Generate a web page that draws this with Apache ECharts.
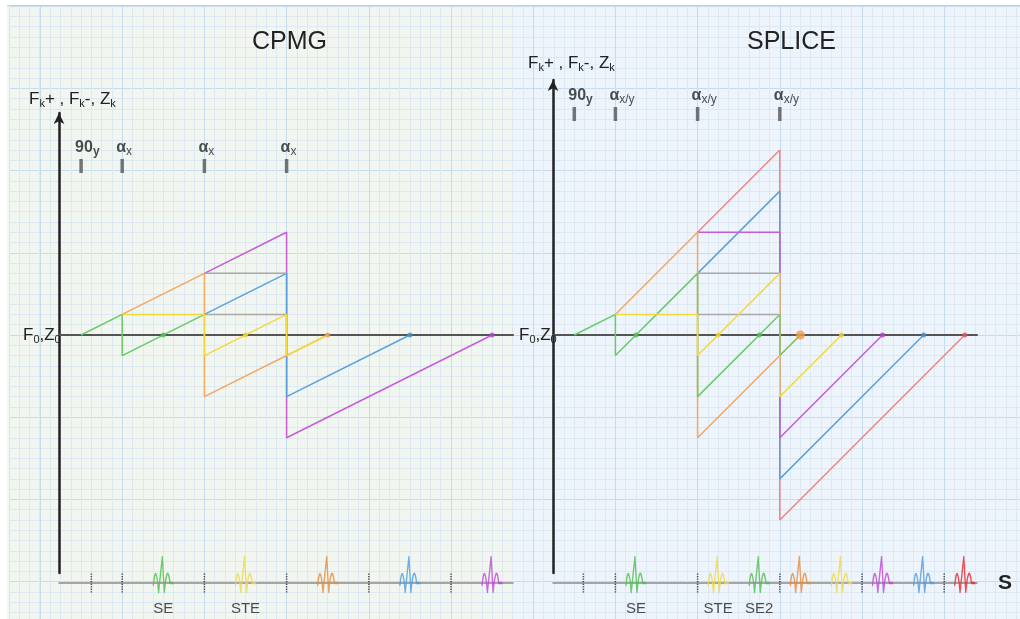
<!DOCTYPE html>
<html><head><meta charset="utf-8">
<script src="https://cdn.jsdelivr.net/npm/echarts@6/dist/echarts.min.js"></script>
<style>html,body{margin:0;padding:0;background:#fff}#c{width:1020px;height:619px}</style>
</head><body><div id="c"></div>
<script>
// ===== DATA (time in units of tau, dephasing order k) =====
// CPMG
const cpmgPulseTimes = [0, 1, 3, 5];
const cpmgPulseMain  = ['90', 'α', 'α', 'α'];
const cpmgPulseSub   = ['y', 'x', 'x', 'x'];
const cpmgPurple = [[3,3],[5,5],[5,-5],[10,0]];
const cpmgBlue   = [[3,1],[5,3],[5,-3],[8,0]];
const cpmgOrange = [[1,1],[3,3],[3,-3],[6,0]];
const cpmgGreen  = [[0,0],[1,1],[1,-1],[3,1]];
const cpmgGrayHi = [[3,3],[5,3]];
const cpmgGrayLo = [[3,1],[5,1]];
const cpmgYellow = [[1,1],[3,1],[3,-1],[5,1],[5,-1],[6,0]];
const cpmgEchoTimes  = [2, 4, 6, 8, 10];
const cpmgEchoColors = ['green','yellow','orange','blue','purple'];
const cpmgEchoLabels = ['SE','STE','','',''];
const cpmgGateTimes  = [0.25, 1, 3, 5, 7, 9];

// SPLICE
const splicePulseTimes = [0, 1, 3, 5];
const splicePulseMain  = ['90', 'α', 'α', 'α'];
const splicePulseSub   = ['y', 'x/y', 'x/y', 'x/y'];
const spliceRed     = [[3,5],[5,9],[5,-9],[9.5,0]];
const spliceBlue    = [[3,3],[5,7],[5,-7],[8.5,0]];
const splicePurple  = [[3,5],[5,5],[5,-5],[7.5,0]];
const spliceOrange  = [[1,1],[3,5],[3,-5],[5,-1],[5.5,0]];
const spliceGreen   = [[0,0],[1,1],[1,-1],[3,3],[3,-3],[5,1]];
const spliceGrayHi  = [[3,3],[5,3]];
const spliceGrayLo  = [[3,1],[5,1]];
const spliceYellow  = [[1,1],[3,1],[3,-1],[5,3],[5,-3],[6.5,0]];
const spliceGreen2  = [[5,1],[5,-1],[5.5,0]];
const spliceEchoTimes  = [1.5, 3.5, 4.5, 5.5, 6.5, 7.5, 8.5, 9.5];
const spliceEchoColors = ['green','yellow','green','orange','yellow','purple','blue','red'];
const spliceEchoLabels = ['SE','STE','SE2','','','','',''];
const spliceGateTimes  = [0.22, 1, 3, 5, 7, 9];

// ===== STYLE / LAYOUT =====
const FONT = 'Liberation Sans, Arial, Helvetica, sans-serif';
const LINE = {green:'#66cc66', orange:'#f5a662', yellow:'#f5d93a', blue:'#5aa2df', purple:'#c65bd9', red:'#f08585', gray:'#a8a8a8'};
const GLYPH = {green:'#4cbf4c', orange:'#e8893a', yellow:'#efd84a', blue:'#4d9be0', purple:'#bf45d4', red:'#e8262a'};
const DOT = {green:'#4cbf4c', orange:'#f29a4a', yellow:'#f0d020', blue:'#3d8fd6', purple:'#b83fcf', red:'#e85050'};

const MAJOR = 82.2, MINOR = MAJOR / 8, TAU = MAJOR / 2, KU = MAJOR / 4;
const ZERO_Y = 335, AXIS_BOTTOM = 573, STRIP_Y = 583;
const L = {axisX: 59, t0: 81.1, rightX: 513, topY: 113, pulseY: 166};
const R = {axisX: 553, t0: 574.3, rightX: 977, topY: 80, pulseY: 114};

const glyphPath = 'path://M0,28 Q2.6,3 5.3,35 L9,0 L11,35 Q14,3.5 16.7,26 L20,26';
let dotted = 'path://';
for (let i = 0; i < 8; i++) dotted += 'M0,' + (i * 2.5) + 'h1v1.2h-1z';

function diagAxes(P, gi) {
  return {
    x: {gridIndex: gi, type: 'value', min: (P.axisX - P.t0) / TAU, max: (P.rightX - P.t0) / TAU,
        axisLine: {show: true, onZero: true, lineStyle: {color: '#555', width: 2.2}},
        axisTick: {show: false}, axisLabel: {show: false}, splitLine: {show: false}},
    y: {gridIndex: gi, type: 'value', min: -(AXIS_BOTTOM - ZERO_Y) / KU, max: (ZERO_Y - P.topY) / KU,
        axisLine: {show: true, onZero: false, symbol: ['none', 'arrow'], symbolSize: [8, 11], lineStyle: {color: '#222', width: 2.5}},
        axisTick: {show: false}, axisLabel: {show: false}, splitLine: {show: false}}
  };
}
function stripAxes(P, gi, name) {
  return {
    x: {gridIndex: gi, type: 'value', min: (P.axisX - P.t0) / TAU, max: (P.rightX - P.t0) / TAU,
        axisLine: {show: true, onZero: true, lineStyle: {color: '#8a8a8a', width: 1.5}},
        axisTick: {show: false}, axisLabel: {show: false}, splitLine: {show: false},
        name: name || '', nameLocation: 'end', nameGap: 21,
        nameTextStyle: {fontSize: 21, fontWeight: 'bold', color: '#222', fontFamily: FONT}},
    y: {gridIndex: gi, type: 'value', min: -1, max: 1, show: false}
  };
}

function pathSeries(data, color, ai, extra) {
  return Object.assign({type: 'line', data: data, xAxisIndex: ai, yAxisIndex: ai, symbol: 'none',
    lineStyle: {color: color, width: 1.5}, silent: true, animation: false, clip: false, z: 3}, extra || {});
}
function pulseSeries(times, main, sub, P, ai) {
  const yv = (ZERO_Y - P.pulseY) / KU;
  return {type: 'scatter', xAxisIndex: ai, yAxisIndex: ai, silent: true, animation: false, clip: false, z: 4,
    symbol: 'rect', symbolSize: [3.5, 14], itemStyle: {color: '#555'},
    data: times.map((t, i) => ({value: [t, yv], label: {formatter: '{b|' + main[i] + '}{' + (main[i] === '90' ? 'bs' : 's') + '|' + sub[i] + '}'}})),
    label: {show: true, position: 'top', distance: 1, align: 'left', offset: [-6, 0],
      rich: {b: {fontSize: 16, fontWeight: 'bold', color: '#222', fontFamily: FONT, lineHeight: 20},
             bs: {fontSize: 12, fontWeight: 'bold', color: '#222', fontFamily: FONT, lineHeight: 14, verticalAlign: 'bottom'},
             s: {fontSize: 12, fontWeight: 'normal', color: '#222', fontFamily: FONT, lineHeight: 14, verticalAlign: 'bottom'}}}};
}
function dotSeries(times, colors, ai, bigIndex) {
  return {type: 'scatter', xAxisIndex: ai, yAxisIndex: ai, silent: true, animation: false, clip: false, z: 5,
    data: times.map((t, i) => ({value: [t, 0], symbolSize: i === bigIndex ? 9 : 5, itemStyle: {color: DOT[colors[i]]}}))};
}
function glyphSeries(times, colors, labels, ai) {
  return {type: 'scatter', xAxisIndex: ai, yAxisIndex: ai, silent: true, animation: false, clip: false, z: 5,
    symbol: glyphPath, symbolSize: [20, 35], symbolOffset: [0, -8.5],
    data: times.map((t, i) => ({value: [t, 0], itemStyle: {color: 'transparent', borderColor: GLYPH[colors[i]], borderWidth: 1.8, borderJoin: 'round', borderCap: 'round'},
      label: {show: !!labels[i], formatter: labels[i]}})),
    label: {position: 'bottom', distance: 8, fontSize: 15, color: '#222', fontFamily: FONT}};
}
function gateSeries(times, ai) {
  return {type: 'scatter', xAxisIndex: ai, yAxisIndex: ai, silent: true, animation: false, clip: false, z: 4,
    symbol: dotted, symbolSize: [1.5, 19], itemStyle: {color: '#222'},
    data: times.map(t => [t, 0])};
}

const ld = diagAxes(L, 1), ls = stripAxes(L, 2), rd = diagAxes(R, 3), rs = stripAxes(R, 4, 'S');

// graph-paper background
const bgX = {gridIndex: 0, type: 'value', min: 0, max: 96, interval: 8,
  axisLine: {show: false}, axisTick: {show: false}, axisLabel: {show: false},
  splitLine: {show: true, lineStyle: {color: '#c6dbee', width: 1}},
  minorTick: {show: true, splitNumber: 8, length: 0},
  minorSplitLine: {show: true, lineStyle: {color: '#dde8f1', width: 1}}};
const bgY = Object.assign({}, bgX, {max: 64});
const bgX2 = {gridIndex: 5, type: 'value', min: 0, max: 2.9, interval: 1,
  axisLine: {show: false}, axisTick: {show: false}, axisLabel: {show: false},
  splitLine: {show: true, lineStyle: {color: '#dde8f1', width: 1}}};
const bgY2 = Object.assign({}, bgY, {gridIndex: 5});

const subRich = {
  a: {fontSize: 17, fontWeight: 'normal', color: '#222', fontFamily: FONT, lineHeight: 20},
  s: {fontSize: 11, fontWeight: 'normal', color: '#222', fontFamily: FONT, lineHeight: 13, verticalAlign: 'bottom'}
};
const fkText = '{a|F}{s|k}{a|+ , F}{s|k}{a|-, Z}{s|k}';
const f0Text = '{a|F}{s|0}{a|,Z}{s|0}';

const NB = {outerBoundsMode: 'none', containLabel: false};
const option = {
  animation: false,
  textStyle: {fontFamily: FONT},
  graphic: [
    {type: 'rect', shape: {x: 7, y: 6, width: 506, height: 613}, style: {fill: '#f1f7f0'}, z: -1, silent: true},
    {type: 'rect', shape: {x: 513, y: 6, width: 507, height: 613}, style: {fill: '#eef4fb'}, z: -1, silent: true},
    {type: 'rect', shape: {x: 0, y: 0, width: 1020, height: 5.5}, style: {fill: '#ffffff'}, z: 1, silent: true},
    {type: 'rect', shape: {x: 0, y: 0, width: 7, height: 619}, style: {fill: '#ffffff'}, z: 1, silent: true},
    {type: 'line', shape: {x1: 7, y1: 5.5, x2: 1020, y2: 5.5}, style: {stroke: '#cfcfcf', lineWidth: 1}, z: 1, silent: true}
  ],
  title: [
    {text: 'CPMG', left: 252, top: 30, padding: 0, textStyle: {fontSize: 25, fontWeight: 'normal', color: '#222', fontFamily: FONT}},
    {text: 'SPLICE', left: 747, top: 30, padding: 0, textStyle: {fontSize: 25, fontWeight: 'normal', color: '#222', fontFamily: FONT}},
    {text: fkText, left: 29, top: 89, padding: 0, textStyle: {fontWeight: 'normal', rich: subRich}},
    {text: fkText, left: 528, top: 53, padding: 0, textStyle: {fontWeight: 'normal', rich: subRich}},
    {text: f0Text, left: 23, top: 325, padding: 0, textStyle: {fontWeight: 'normal', rich: subRich}},
    {text: f0Text, left: 519, top: 325, padding: 0, textStyle: {fontWeight: 'normal', rich: subRich}}
  ],
  grid: [
    Object.assign({left: 40, top: 6.2, width: MAJOR * 12, height: MAJOR * 8}, NB),
    Object.assign({left: L.axisX, top: L.topY, width: L.rightX - L.axisX, height: AXIS_BOTTOM - L.topY}, NB),
    Object.assign({left: L.axisX, top: STRIP_Y - 30, width: L.rightX - L.axisX, height: 60}, NB),
    Object.assign({left: R.axisX, top: R.topY, width: R.rightX - R.axisX, height: AXIS_BOTTOM - R.topY}, NB),
    Object.assign({left: R.axisX, top: STRIP_Y - 30, width: R.rightX - R.axisX, height: 60}, NB),
    Object.assign({left: 40 - 3 * MINOR, top: 6.2, width: 2.9 * MINOR, height: MAJOR * 8}, NB)
  ],
  xAxis: [bgX, ld.x, ls.x, rd.x, rs.x, bgX2],
  yAxis: [bgY, ld.y, ls.y, rd.y, rs.y, bgY2],
  series: [
    // CPMG
    pathSeries(cpmgPurple, LINE.purple, 1),
    pathSeries(cpmgBlue, LINE.blue, 1),
    pathSeries(cpmgOrange, LINE.orange, 1),
    pathSeries(cpmgGreen, LINE.green, 1),
    pathSeries(cpmgGrayHi, LINE.gray, 1),
    pathSeries(cpmgGrayLo, LINE.gray, 1),
    pathSeries(cpmgYellow, LINE.yellow, 1),
    dotSeries(cpmgEchoTimes, cpmgEchoColors, 1, -1),
    pulseSeries(cpmgPulseTimes, cpmgPulseMain, cpmgPulseSub, L, 1),
    glyphSeries(cpmgEchoTimes, cpmgEchoColors, cpmgEchoLabels, 2),
    gateSeries(cpmgGateTimes, 2),
    // SPLICE
    pathSeries(spliceRed, LINE.red, 3),
    pathSeries(spliceBlue, LINE.blue, 3),
    pathSeries(splicePurple, LINE.purple, 3),
    pathSeries(spliceOrange, LINE.orange, 3),
    pathSeries(spliceGreen, LINE.green, 3),
    pathSeries(spliceGrayHi, LINE.gray, 3),
    pathSeries(spliceGrayLo, LINE.gray, 3),
    pathSeries(spliceYellow, LINE.yellow, 3),
    pathSeries(spliceGreen2, LINE.green, 3, {lineStyle: {color: LINE.green, width: 1.5, opacity: 0.85}}),
    dotSeries(spliceEchoTimes, spliceEchoColors, 3, 3),
    pulseSeries(splicePulseTimes, splicePulseMain, splicePulseSub, R, 3),
    glyphSeries(spliceEchoTimes, spliceEchoColors, spliceEchoLabels, 4),
    gateSeries(spliceGateTimes, 4)
  ]
};
const chart = echarts.init(document.getElementById('c'), null, {renderer: 'canvas'});
chart.setOption(option);
</script></body></html>
